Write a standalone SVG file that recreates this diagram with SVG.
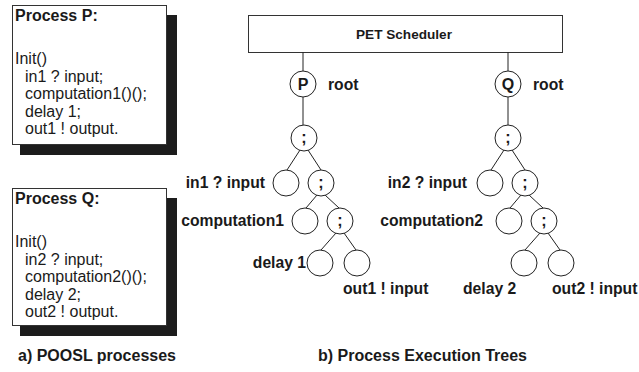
<svg xmlns="http://www.w3.org/2000/svg" width="639" height="372" viewBox="0 0 639 372">
<style>
text{font-family:"Liberation Sans",Arial,Helvetica,sans-serif;fill:#1a1a1a}
.b{font-weight:bold}
.code{font-size:16px}
.ttl{font-size:16px;font-weight:bold}
.lbl{font-size:15.7px;font-weight:bold}
.box{fill:#fff;stroke:#333;stroke-width:1}
.shadow{fill:#1c1c1c}
.nd{fill:#fff;stroke:#222;stroke-width:1}
.ln{stroke:#222;stroke-width:1;fill:none}
.in{font-size:16px;font-weight:bold;text-anchor:middle}
</style>
<rect width="639" height="372" fill="#fff"/>
<g id="processP">
<rect class="shadow" x="20" y="15" width="157" height="140"/>
<rect class="box" x="12.5" y="5.5" width="154" height="139"/>
<text class="ttl" x="15" y="21">Process P:</text>
<text class="code" x="15" y="64">Init()</text>
<text class="code" x="25" y="81.5">in1 ? input;</text>
<text class="code" x="25" y="99">computation1()();</text>
<text class="code" x="25" y="116.5">delay 1;</text>
<text class="code" x="25" y="134">out1 ! output.</text>
</g>
<g id="processQ">
<rect class="shadow" x="20" y="198" width="157" height="138"/>
<rect class="box" x="12.5" y="188.5" width="154" height="137"/>
<text class="ttl" x="15" y="204">Process Q:</text>
<text class="code" x="15" y="247">Init()</text>
<text class="code" x="25" y="264.5">in2 ? input;</text>
<text class="code" x="25" y="282">computation2()();</text>
<text class="code" x="25" y="299.5">delay 2;</text>
<text class="code" x="25" y="317">out2 ! output.</text>
</g>
<g id="scheduler">
<rect class="box" x="248.5" y="15.5" width="314" height="37"/>
<text class="b" x="404" y="39" font-size="13.6" text-anchor="middle">PET Scheduler</text>
</g>
<g id="connectors">
<path class="ln" d="M303 52V71M303 97V125M508 52V71M508 97V125"/>
<path class="ln" d="M300 150L287 170M308 150L321 170M317 195L306 208M325 195L339 208M336 233L321 250M344 233L356 250"/>
<path class="ln" d="M504 150L491 170M512 150L525 170M521 195L510 208M529 195L543 208M540 233L525 250M548 233L560 250"/>
</g>
<g id="rootP">
<circle class="nd" cx="303" cy="84" r="13"/>
<text class="in" x="303" y="90">P</text>
<text class="lbl" x="328" y="90">root</text>
</g>
<g id="rootQ">
<circle class="nd" cx="508" cy="84" r="13"/>
<text class="in" x="508" y="90">Q</text>
<text class="lbl" x="533" y="90">root</text>
</g>
<g id="p-seq1"><circle class="nd" cx="304" cy="138" r="13"/><text class="in" x="304" y="143">;</text></g>
<g id="p-in1"><circle class="nd" cx="286" cy="183" r="13"/><text class="lbl" x="265" y="188" text-anchor="end">in1 ? input</text></g>
<g id="p-seq2"><circle class="nd" cx="321" cy="183" r="13"/><text class="in" x="321" y="188">;</text></g>
<g id="p-comp1"><circle class="nd" cx="305" cy="221" r="13"/><text class="lbl" x="284" y="226" text-anchor="end">computation1</text></g>
<g id="p-seq3"><circle class="nd" cx="340" cy="221" r="13"/><text class="in" x="340" y="226">;</text></g>
<g id="p-delay1"><circle class="nd" cx="320" cy="263" r="13"/><text class="lbl" x="306" y="268" text-anchor="end">delay 1</text></g>
<g id="p-out1"><circle class="nd" cx="357" cy="263" r="13"/><text class="lbl" x="343" y="294">out1 ! input</text></g>
<g id="q-seq1"><circle class="nd" cx="508" cy="138" r="13"/><text class="in" x="508" y="143">;</text></g>
<g id="q-in2"><circle class="nd" cx="490" cy="183" r="13"/><text class="lbl" x="467" y="188" text-anchor="end">in2 ? input</text></g>
<g id="q-seq2"><circle class="nd" cx="525" cy="183" r="13"/><text class="in" x="525" y="188">;</text></g>
<g id="q-comp2"><circle class="nd" cx="509" cy="221" r="13"/><text class="lbl" x="483" y="226" text-anchor="end">computation2</text></g>
<g id="q-seq3"><circle class="nd" cx="544" cy="221" r="13"/><text class="in" x="544" y="226">;</text></g>
<g id="q-delay2"><circle class="nd" cx="524" cy="263" r="13"/><text class="lbl" x="463" y="294">delay 2</text></g>
<g id="q-out2"><circle class="nd" cx="561" cy="263" r="13"/><text class="lbl" x="552" y="294">out2 ! input</text></g>
<g id="captions">
<text class="ttl" x="18" y="361">a) POOSL processes</text>
<text class="ttl" x="318" y="361">b) Process Execution Trees</text>
</g>
</svg>
